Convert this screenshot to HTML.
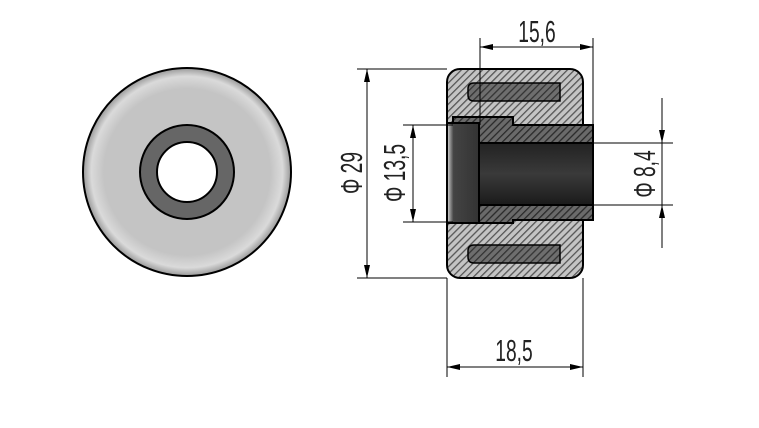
<!DOCTYPE html>
<html><head><meta charset="utf-8"><style>
html,body{margin:0;padding:0;background:#fff;}
svg{display:block;}
text{font-family:"Liberation Sans",sans-serif;fill:#222;}
</style></head><body>
<svg width="759" height="428" viewBox="0 0 759 428" xmlns="http://www.w3.org/2000/svg">
<defs>
<pattern id="h1" width="5" height="5" patternUnits="userSpaceOnUse" patternTransform="rotate(45)">
<rect width="5" height="5" fill="#c4c4c4"/><rect width="1.3" height="5" fill="#555"/></pattern>
<pattern id="h2" width="5" height="5" patternUnits="userSpaceOnUse" patternTransform="rotate(45)">
<rect width="5" height="5" fill="#6a6a6a"/><rect width="1.3" height="5" fill="#2a2a2a"/></pattern>
<pattern id="h3" width="5" height="5" patternUnits="userSpaceOnUse" patternTransform="rotate(45)">
<rect width="5" height="5" fill="#6e6e6e"/><rect width="1.3" height="5" fill="#333"/></pattern>
<radialGradient id="rg" cx="0.5" cy="0.5" r="0.5">
<stop offset="0.8" stop-color="#c4c4c4"/><stop offset="0.92" stop-color="#dadada"/><stop offset="1" stop-color="#999"/></radialGradient>
<linearGradient id="bore" x1="0" y1="0" x2="0" y2="1">
<stop offset="0" stop-color="#222"/><stop offset="0.5" stop-color="#3a3a3a"/><stop offset="1" stop-color="#1a1a1a"/></linearGradient>
<linearGradient id="fl" x1="0" y1="0" x2="1" y2="0">
<stop offset="0" stop-color="#ddd"/><stop offset="0.2" stop-color="#444"/><stop offset="1" stop-color="#333"/></linearGradient>
</defs>

<circle cx="187" cy="172" r="104" fill="url(#rg)" stroke="#000" stroke-width="2"/>
<circle cx="187" cy="172" r="47" fill="#666" stroke="#000" stroke-width="2"/>
<circle cx="187" cy="172" r="30" fill="#fff" stroke="#000" stroke-width="2"/>

<rect x="447" y="69" width="136" height="209" rx="13" fill="url(#h1)" stroke="#000" stroke-width="2"/>
<path d="M474,83 H560 V101 H474 Q468,101 468,95 V89 Q468,83 474,83Z" fill="url(#h3)" stroke="#000" stroke-width="1.5"/>
<path d="M474,245 H560 V263 H474 Q468,263 468,257 V251 Q468,245 474,245Z" fill="url(#h3)" stroke="#000" stroke-width="1.5"/>
<path d="M453,117 H513 V125 H593 V220 H513 V223 H453 Z" fill="url(#h2)" stroke="#000" stroke-width="2"/>
<rect x="447" y="123" width="32" height="100" fill="url(#fl)" stroke="#000" stroke-width="2"/>
<rect x="479" y="143" width="114" height="62" fill="url(#bore)" stroke="#000" stroke-width="2"/>

<g stroke="#000" stroke-width="1" fill="none">
<line x1="480" y1="38" x2="480" y2="125"/><line x1="593" y1="38" x2="593" y2="125"/>
<line x1="480" y1="47" x2="593" y2="47"/>
<line x1="357" y1="69" x2="447" y2="69"/><line x1="357" y1="278" x2="447" y2="278"/>
<line x1="367" y1="69" x2="367" y2="278"/>
<line x1="403" y1="125" x2="453" y2="125"/><line x1="403" y1="222" x2="453" y2="222"/>
<line x1="413" y1="125" x2="413" y2="222"/>
<line x1="593" y1="143" x2="673" y2="143"/><line x1="593" y1="205" x2="673" y2="205"/>
<line x1="662" y1="98" x2="662" y2="248"/>
<line x1="447" y1="278" x2="447" y2="377"/><line x1="583" y1="278" x2="583" y2="377"/>
<line x1="447" y1="367" x2="583" y2="367"/>
</g>
<g fill="#000">
<polygon points="480,47 493,44 493,50"/><polygon points="593,47 580,44 580,50"/>
<polygon points="367,69 364,82 370,82"/><polygon points="367,278 364,265 370,265"/>
<polygon points="413,125 410,138 416,138"/><polygon points="413,222 410,209 416,209"/>
<polygon points="662,143 659,130 665,130"/><polygon points="662,205 659,218 665,218"/>
<polygon points="447,367 460,364 460,370"/><polygon points="583,367 570,364 570,370"/>
</g>

<g font-size="31">
<text text-anchor="middle" transform="translate(537 42) scale(0.62 1)">15,6</text>
<text text-anchor="middle" transform="translate(514 361) scale(0.62 1)">18,5</text>
<text transform="translate(362 173) rotate(-90) scale(0.62 1)" text-anchor="middle">Φ 29</text>
<text transform="translate(405 173) rotate(-90) scale(0.62 1)" text-anchor="middle">Φ 13,5</text>
<text transform="translate(655 174) rotate(-90) scale(0.62 1)" text-anchor="middle">Φ 8,4</text>
</g>
</svg>
</body></html>
